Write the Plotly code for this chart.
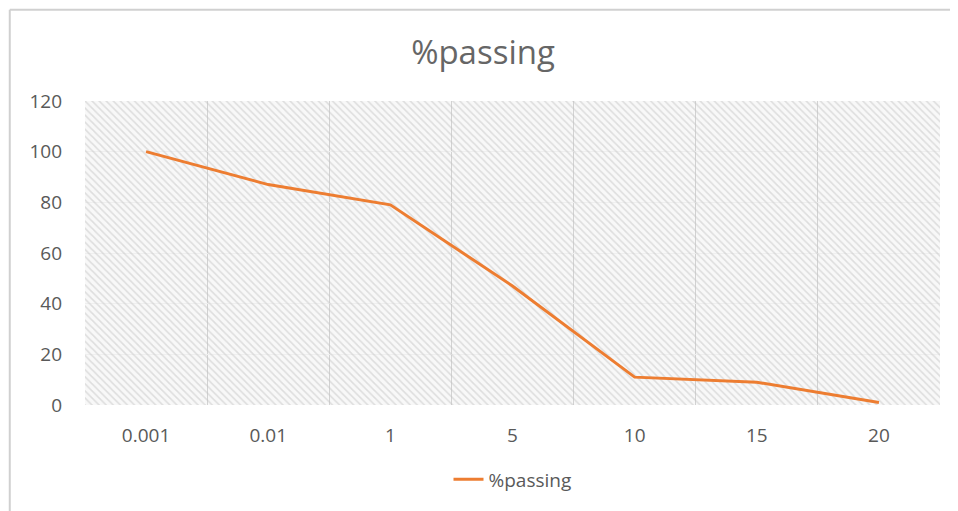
import plotly.graph_objects as go

# sieve sizes (category labels) and % passing
sizes = ["0.001", "0.01", "1", "5", "10", "15", "20"]
passing = [100, 87, 79, 47, 11, 9, 1]
y_max = 120

line_color = "#ED7D31"
text_color = "#595959"

fig = go.Figure()

# hatched plot-area background, like the Excel pattern fill
fig.add_trace(go.Bar(
    x=sizes, y=[y_max] * len(sizes), width=1,
    marker=dict(color="rgba(0,0,0,0)", line_width=0,
                pattern=dict(shape="\\", fgcolor="#c4c4c4", bgcolor="rgba(0,0,0,0)",
                             size=5, solidity=0.33)),
    showlegend=False, hoverinfo="skip",
))

fig.add_trace(go.Scatter(
    x=sizes, y=passing, mode="lines", name="%passing",
    line=dict(color=line_color, width=3),
))

fig.update_layout(
    width=950, height=503,
    margin=dict(l=77, r=18, t=93, b=104),
    paper_bgcolor="white", plot_bgcolor="#f8f8f8",
    font=dict(family="Open Sans, Noto Sans, sans-serif", color=text_color, size=19),
    title=dict(text="%passing", x=0.5, xanchor="center", y=0.912, yanchor="middle",
               font=dict(size=33, color="#666666")),
    showlegend=True,
    legend=dict(orientation="h", x=0.5, xanchor="center", y=-0.245, yanchor="middle",
                font=dict(size=19, color=text_color)),
    bargap=0,
    shapes=[
        dict(type="line", xref="paper", yref="paper", x0=-0.088, x1=-0.088, y0=-0.5, y1=1.3,
             line=dict(color="#d0d0d0", width=2)),
        dict(type="line", xref="paper", yref="paper", x0=-0.088, x1=1.1, y0=1.3, y1=1.3,
             line=dict(color="#d0d0d0", width=2)),
    ],
)

fig.update_xaxes(
    type="category", tickson="boundaries", showgrid=True, gridcolor="#d2d2d2",
    ticks="", showline=False, zeroline=False, ticklabelstandoff=17,
)
fig.update_yaxes(
    range=[0, y_max], dtick=20, showgrid=True, gridcolor="#efefef",
    zeroline=False, showline=False, ticks="", ticklabelstandoff=22,
)

fig.write_html("out.html")
